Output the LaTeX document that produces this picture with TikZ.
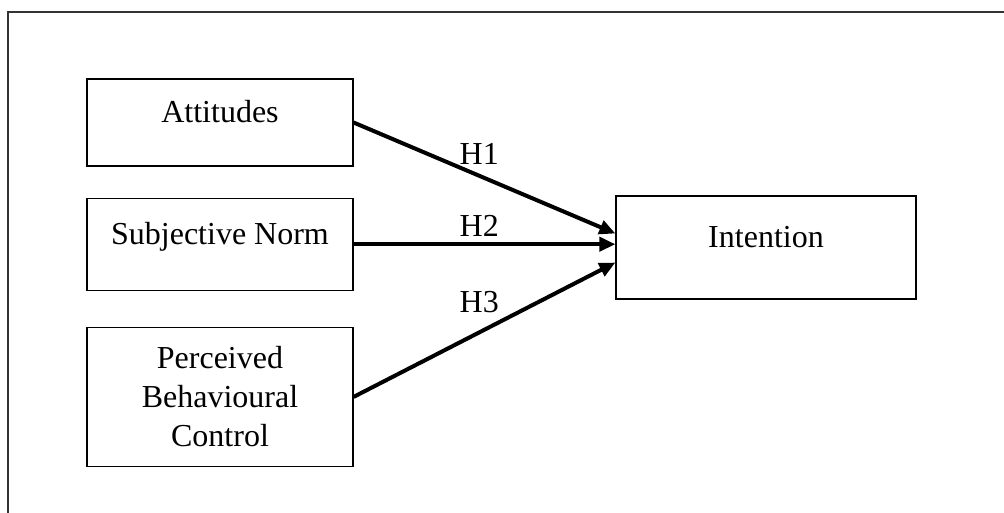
\documentclass[tikz,border=0pt]{standalone}
\usepackage{fontspec}
\setmainfont{Liberation Serif}
\usetikzlibrary{positioning,arrows.meta}

\begin{document}
\begin{tikzpicture}[x=1pt, y=-1pt, node distance = {31pt},
	main/.style = {draw, line width=1.2pt, minimum width=266pt, align=center, font=\fontsize{32}{39}\selectfont},
	single/.style = {text height=12pt, text depth=12pt},
	path/.style = {line width=4pt, -{Triangle[length=16pt,width=14pt]}},
	hyp/.style = {font=\fontsize{32}{39}\selectfont, inner sep=4pt}]
	\useasboundingbox (0,0) rectangle (1004,512);
	% frame
	\begin{scope}
		\clip (0,0) rectangle (1004,512);
		\draw[line width=1.2pt, black!80] (8,12) rectangle (1020,530);
	\end{scope}
	\node[main, single, minimum height=87pt] (att) at (220,122.5) {Attitudes};
	\node[main, single, minimum height=92pt] (sub) [below=31pt of att] {Subjective Norm};
	\node[main, minimum height=139pt] (pbc) [below=36pt of sub] {Perceived\\Behavioural\\Control};
	\node[main, single, minimum width=300pt, minimum height=103pt] (int) at (766,247.5) {Intention};
	\draw[path] (att.east) -- ([yshift=14pt]int.west) node[hyp, pos=.48, above=5pt] (h1) {H1};
	\draw[path] (sub.east) -- (sub.east -| int.west) node[hyp, pos=.48, above=2pt] (h2) {H2};
	\draw[path] (pbc.east) -- ([yshift=-15pt]int.west) node[hyp, pos=.48, above=14pt] (h3) {H3};
\end{tikzpicture}
\end{document}
